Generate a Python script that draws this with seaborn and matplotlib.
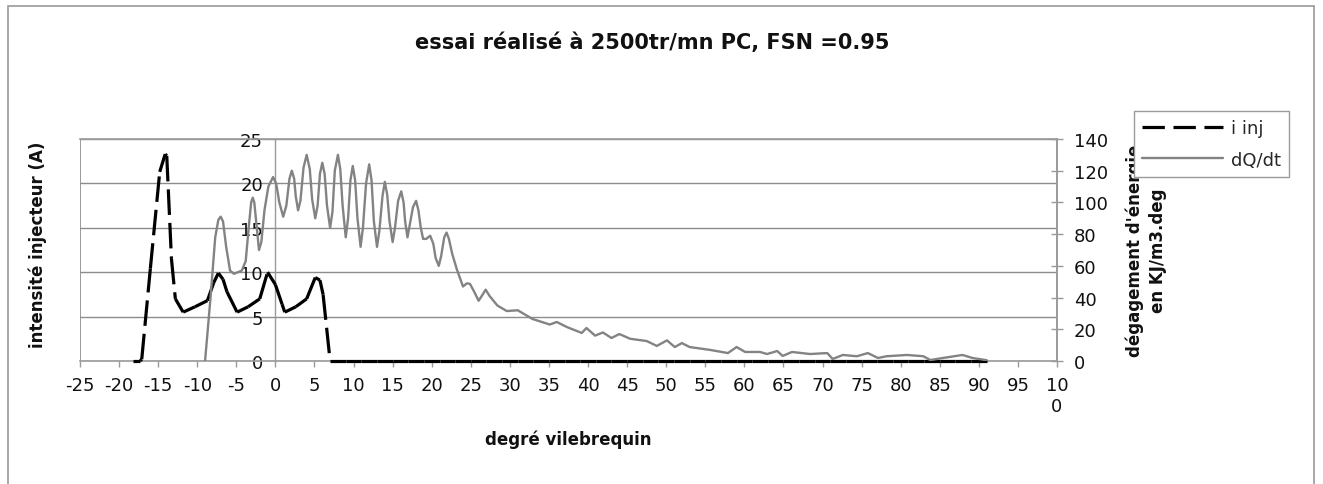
import matplotlib
matplotlib.use("Agg")
import matplotlib.pyplot as plt
from matplotlib.patches import Rectangle
from matplotlib.lines import Line2D
import seaborn as sns
import pandas as pd

# ---------------- data ----------------
title = "essai réalisé à 2500tr/mn PC, FSN =0.95"
x_label = "degré vilebrequin"
y_left_label = "intensité injecteur (A)"
y_right_label = "dégagement d'énergie\nen KJ/m3.deg"
legend_labels = ["i inj", "dQ/dt"]

x_tick_values = [-25, -20, -15, -10, -5, 0, 5, 10, 15, 20, 25, 30, 35, 40, 45,
                 50, 55, 60, 65, 70, 75, 80, 85, 90, 95, 100]
x_tick_labels = ["-25", "-20", "-15", "-10", "-5", "0", "5", "10", "15", "20",
                 "25", "30", "35", "40", "45", "50", "55", "60", "65", "70",
                 "75", "80", "85", "90", "95", "10\n0"]
y_left_ticks = [0, 5, 10, 15, 20, 25]
y_right_ticks = [0, 20, 40, 60, 80, 100, 120, 140]

inj_deg = [-18.2, -17.3, -17.1, -16.0, -14.8, -14.1, -13.9, -13.3, -12.8, -11.8,
           -10.3, -8.7, -7.9, -7.3, -6.7, -6.2, -4.9, -3.5, -2.0, -1.0, 0.0,
           0.85, 1.2, 2.6, 4.0, 5.1, 5.7, 6.1, 7.0,
           9.0, 11.0, 13.0, 15.0, 17.0, 19.0, 21.0, 23.0, 25.0, 27.0, 29.0,
           31.0, 33.0, 35.0, 37.0, 39.0, 41.0, 43.0, 45.0, 47.0, 49.0, 51.0,
           53.0, 55.0, 57.0, 59.0, 61.0, 63.0, 65.0, 67.0, 69.0, 71.0, 73.0,
           75.0, 77.0, 79.0, 81.0, 83.0, 85.0, 87.0, 89.0, 91.0]
inj_current = [0.0, 0.0, 0.2, 10.4, 21.3, 23.3, 23.1, 11.5, 7.0, 5.5,
               6.1, 6.8, 8.8, 9.9, 9.2, 7.8, 5.5, 6.1, 7.0, 10.0, 8.6,
               6.4, 5.5, 6.1, 7.0, 9.4, 9.1, 7.5, 0.0,
               0.0, 0.0, 0.0, 0.0, 0.0, 0.0, 0.0, 0.0, 0.0, 0.0, 0.0,
               0.0, 0.0, 0.0, 0.0, 0.0, 0.0, 0.0, 0.0, 0.0, 0.0, 0.0,
               0.0, 0.0, 0.0, 0.0, 0.0, 0.0, 0.0, 0.0, 0.0, 0.0, 0.0,
               0.0, 0.0, 0.0, 0.0, 0.0, 0.0, 0.0, 0.0, 0.0]

# heat release dQ/dt (kJ/m3.deg)
dq_deg = [-9.0, -8.3, -7.7, -7.3, -7.0, -6.7, -6.3, -5.8, -5.3, -4.3, -3.8,
          -3.4, -3.1, -2.9, -2.7, -2.4, -2.1, -1.8, -1.4, -0.9, -0.3, 0.1,
          0.5, 1.0, 1.4, 1.8, 2.1, 2.4, 2.6, 2.9, 3.2, 3.6, 4.0, 4.4, 4.7,
          5.1, 5.4, 5.7, 6.0, 6.3, 6.6, 7.0, 7.3, 7.6, 8.0, 8.3, 8.6, 9.0,
          9.3, 9.6, 9.9, 10.2, 10.5, 10.9, 11.2, 11.6, 12.0, 12.3, 12.6,
          13.0, 13.3, 13.7, 14.0, 14.3, 14.6, 15.0, 15.3, 15.7, 16.1, 16.4,
          16.6, 16.9, 17.2, 17.6, 18.0, 18.3, 18.6, 18.9, 19.3, 19.8, 20.2,
          20.5, 20.9, 21.2, 21.6, 21.9, 22.2, 22.6, 23.2, 24.0, 24.5, 24.9,
          25.4, 26.0, 26.4, 26.9, 27.4, 28.4, 29.6, 31.0, 32.9, 35.1, 36.0,
          37.3, 39.2, 39.8, 40.9, 41.9, 43.0, 44.0, 45.4, 47.5, 48.8, 50.1,
          51.1, 52.0, 53.0, 55.6, 57.9, 59.0, 60.1, 62.0, 62.9, 64.2, 64.9,
          66.1, 68.4, 70.6, 71.3, 72.6, 74.4, 75.8, 77.1, 78.2, 80.8, 82.9,
          83.8, 85.4, 87.9, 89.2, 91.0]
dq_values = [0, 40, 78, 89, 91, 88, 72, 57, 55, 57, 63,
             85, 100, 103, 100, 85, 70, 75, 95, 110, 116, 112,
             100, 91, 98, 115, 120, 115, 104, 95, 101, 122, 130, 121, 102,
             90, 98, 118, 125, 118, 98, 84, 94, 120, 130, 121, 98, 78,
             90, 114, 123, 114, 90, 72, 84, 112, 124, 114, 88,
             72, 82, 104, 113, 105, 88, 75, 84, 101, 107, 100,
             88, 78, 86, 97, 101, 95, 84, 77, 77, 79, 74,
             65, 60, 66, 78, 81, 77, 68, 58, 47, 49, 48.6,
             44, 38, 41, 45, 41, 35, 31.5, 32, 26.5, 23, 24.6,
             21.4, 17.7, 20.8, 16, 18, 14.5, 17, 14, 12.6, 9.5, 13,
             8.8, 11.3, 8.8, 7, 5, 8.8, 5.7, 5.7, 4.4, 6.3, 3.2,
             5.7, 4.4, 5, 1.3, 3.8, 3, 5, 1.9, 3, 3.8, 3,
             0.6, 1.9, 3.8, 1.9, 0.5]

# each pair of consecutive samples is drawn as its own dashed piece
seg_rows = []
for k in range(len(inj_deg) - 1):
    seg_rows.append({"seg": k, "deg": inj_deg[k], "i": inj_current[k]})
    seg_rows.append({"seg": k, "deg": inj_deg[k + 1], "i": inj_current[k + 1]})
inj_seg_df = pd.DataFrame(seg_rows)
dq_df = pd.DataFrame({"deg": dq_deg, "dq": dq_values})

# ---------------- style ----------------
sns.set_style("white")
plt.rcParams["font.family"] = ["DejaVu Sans"]

W, H = 1323, 485
fig = plt.figure(figsize=(W / 100, H / 100), dpi=100)
L, R, T, B = 80, 1057, 140, 362
ax = fig.add_axes([L / W, 1 - B / H, (R - L) / W, (B - T) / H])
ax2 = ax.twinx()

GRID = "#8c8c8c"
FRAME = "#9a9a9a"
DQ_COLOR = "#838383"
DASH = (0, (8, 2.5))

# lines
sns.lineplot(data=dq_df, x="deg", y="dq", ax=ax2, color=DQ_COLOR, lw=1.7,
             sort=False, estimator=None, legend=False,
             solid_joinstyle="round")
sns.lineplot(data=inj_seg_df, x="deg", y="i", units="seg", ax=ax,
             color="black", lw=2.3, linestyle=DASH, sort=False,
             estimator=None, legend=False, clip_on=False, zorder=3)

# primary axis
ax.set_xlim(x_tick_values[0], x_tick_values[-1])
ax.set_ylim(y_left_ticks[0], y_left_ticks[-1])
ax.set_yticks(y_left_ticks)
ax.set_yticklabels([str(v) for v in y_left_ticks])
ax.set_xticks(x_tick_values)
ax.set_xticklabels(x_tick_labels)
ax.spines["left"].set_position(("data", 0))
ax.spines["left"].set_color(FRAME)
ax.spines["left"].set_linewidth(1.0)
for s in ["top", "bottom"]:
    ax.spines[s].set_color(FRAME)
    ax.spines[s].set_linewidth(1.2)
ax.spines["right"].set_visible(False)
ax.axvline(x_tick_values[0], color=FRAME, lw=1.4, zorder=0)
ax.grid(axis="y", color=GRID, lw=1.0)
ax.grid(axis="x", visible=False)
ax.set_axisbelow(True)
ax.tick_params(axis="y", length=0, pad=9, labelsize=13, labelcolor="#111")
ax.tick_params(axis="x", direction="out", length=4, color=FRAME, width=1,
               pad=7, labelsize=13, labelcolor="#111", bottom=True)
ax.set_xlabel("")
ax.set_ylabel("")

# secondary axis
ax2.set_ylim(y_right_ticks[0], y_right_ticks[-1])
ax2.set_yticks(y_right_ticks)
ax2.set_yticklabels([str(v) for v in y_right_ticks])
ax2.tick_params(axis="y", direction="inout", length=8, color=FRAME, width=1,
                pad=8, labelsize=13, labelcolor="#111", right=True)
for s in ["left", "top", "bottom"]:
    ax2.spines[s].set_visible(False)
ax2.spines["right"].set_color(FRAME)
ax2.spines["right"].set_linewidth(1.4)
ax2.set_ylabel("")
ax2.grid(False)

# texts
fig.text(652 / W, 1 - 43 / H, title, ha="center", va="center",
         fontsize=15, fontweight="bold", color="#111")
fig.text(568 / W, 1 - 440 / H, x_label, ha="center", va="center",
         fontsize=12, fontweight="bold", color="#111")
fig.text(38 / W, 1 - 245 / H, y_left_label, ha="center", va="center",
         rotation=90, fontsize=12, fontweight="bold", color="#111")
fig.text(1146 / W, 1 - 251 / H, y_right_label, ha="center", va="center",
         rotation=90, fontsize=12, fontweight="bold", color="#111",
         multialignment="center", linespacing=1.35)

# legend
handles = [Line2D([], [], color="black", lw=2.3, linestyle=(0, (7, 2.7))),
           Line2D([], [], color=DQ_COLOR, lw=1.7)]
leg = fig.legend(handles, legend_labels, loc="upper left",
                 bbox_to_anchor=(1134 / W, 1 - 112 / H), borderaxespad=0,
                 frameon=True, fancybox=False, edgecolor=FRAME,
                 framealpha=1, fontsize=13, handlelength=4.5,
                 handletextpad=0.4, labelspacing=0.75, borderpad=0.45)
leg.get_frame().set_linewidth(1.0)

# outer chart border
fig.patches.append(Rectangle((8 / W, -0.05), (1314 - 8) / W, 1 - 7 / H + 0.05,
                             transform=fig.transFigure, fill=False,
                             edgecolor=FRAME, lw=1.2))

fig.savefig("out.png", dpi=100)
